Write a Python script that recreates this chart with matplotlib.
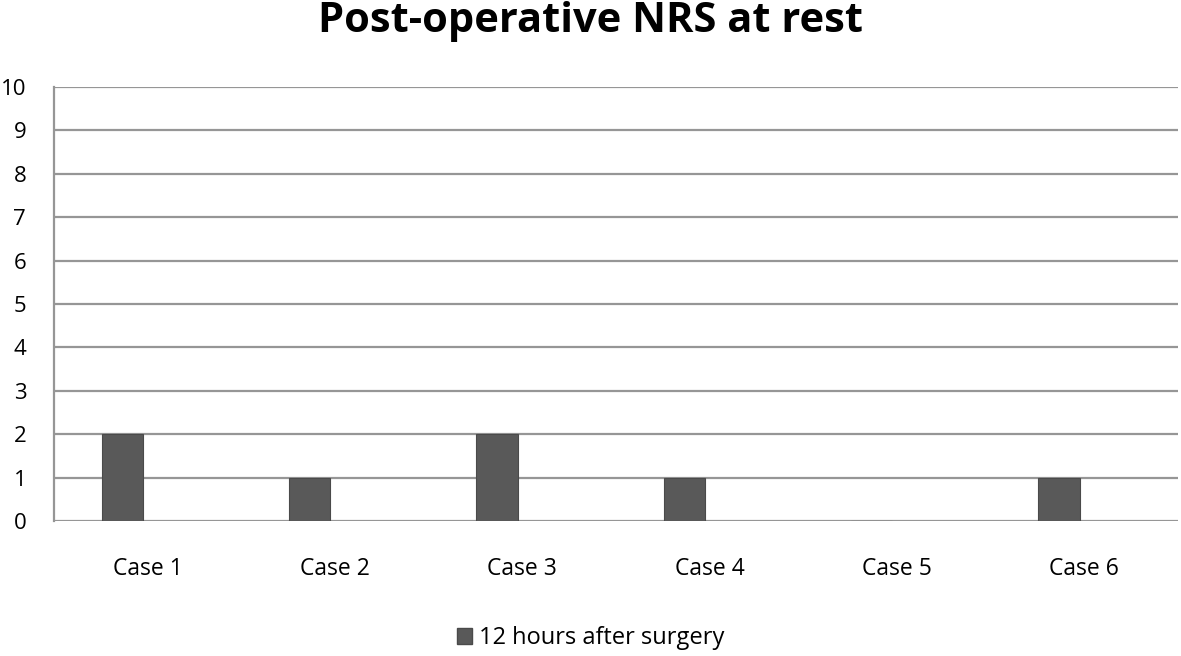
import numpy as np
import matplotlib.pyplot as plt
from matplotlib.patches import Patch

cases = ["Case 1", "Case 2", "Case 3", "Case 4", "Case 5", "Case 6"]
nrs_12h = [2, 1, 2, 1, 0, 1]
series_label = "12 hours after surgery"
yticks = list(range(0, 11))

plt.rcParams['font.family'] = ['Open Sans', 'DejaVu Sans']

fig = plt.figure(figsize=(11.81, 6.56), dpi=100)
ax = fig.add_axes([54 / 1181, 1 - 521 / 656, (1178 - 54) / 1181, (521 - 87) / 656])

x = np.arange(len(cases))
ax.bar(x - 0.135, nrs_12h, width=0.22, color='#595959', edgecolor='#4a4a4a', linewidth=0.8, zorder=3)

ax.set_xlim(-0.5, len(cases) - 0.5)
ax.set_ylim(0, 10)
ax.set_yticks(yticks)
ax.set_yticklabels([str(v) for v in yticks], fontsize=16)
ax.set_xticks(x)
ax.set_xticklabels(cases, fontsize=16.5)
ax.tick_params(axis='both', length=0)
ax.tick_params(axis='y', pad=20)
ax.tick_params(axis='x', pad=26)
ax.yaxis.grid(True, color='#969696', linewidth=1.6, zorder=0)
for s in ['top', 'right', 'bottom']:
    ax.spines[s].set_visible(False)
ax.spines['left'].set_color('#969696')
ax.spines['left'].set_linewidth(1.6)

fig.text(0.5, 1 - 22 / 656, "Post-operative NRS at rest", ha='center', va='center',
         fontsize=30, fontweight='bold')

handle = Patch(facecolor='#595959', edgecolor='#4a4a4a', label=series_label)
fig.legend(handles=[handle], loc='center', bbox_to_anchor=(0.5, 1 - 638 / 656),
           frameon=False, fontsize=17, handlelength=0.65, handleheight=0.65, handletextpad=0.3)

fig.savefig("out.png", dpi=100)
